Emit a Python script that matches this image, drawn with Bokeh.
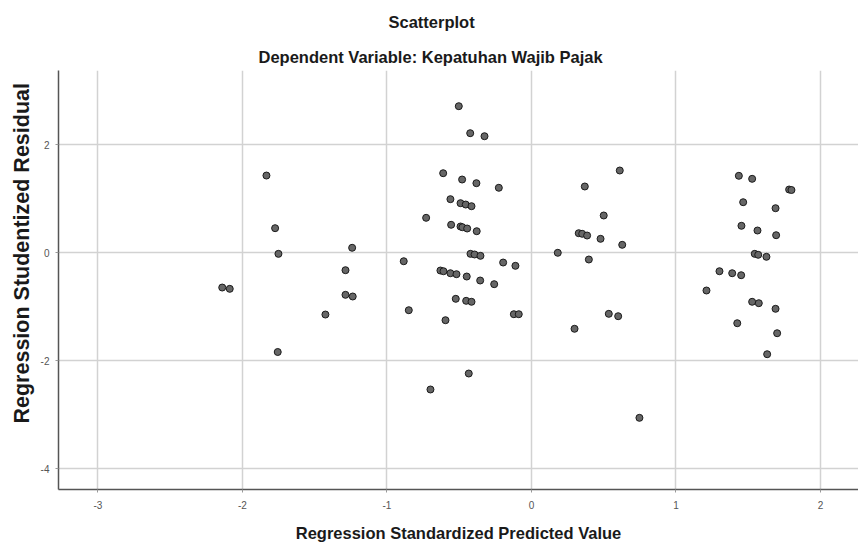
from bokeh.plotting import figure
from bokeh.models import Range1d, FixedTicker, Title
from bokeh.embed import file_html
from bokeh.resources import INLINE

# Regression Standardized Predicted Value
pred = [-2.140, -2.088, -1.834, -1.774, -1.751, -1.756, -1.241, -1.287, -1.287, -1.237,
        -1.426, -0.884, -0.849, -0.729, -0.699,
        -0.503, -0.424, -0.325, -0.611, -0.480, -0.381, -0.226, -0.561, -0.491, -0.455,
        -0.415, -0.556, -0.491, -0.478, -0.445, -0.379, -0.422, -0.394, -0.353, -0.196,
        -0.111, -0.630, -0.609, -0.561, -0.519, -0.448, -0.355, -0.258, -0.524, -0.452,
        -0.415, -0.122, -0.088, -0.595, -0.434,
        0.182, 0.611, 0.369, 0.500, 0.327, 0.351, 0.385, 0.478, 0.628, 0.397,
        0.535, 0.600, 0.298, 0.747,
        1.435, 1.527, 1.783, 1.799, 1.465, 1.689, 1.453, 1.564, 1.693, 1.545,
        1.569, 1.626, 1.301, 1.389, 1.451, 1.211, 1.527, 1.573, 1.689, 1.424,
        1.700, 1.631]

# Regression Studentized Residual
resid = [-0.643, -0.667, 1.431, 0.456, -0.019, -1.837, 0.093, -0.322, -0.778, -0.809,
         -1.143, -0.156, -1.063, 0.648, -2.531,
         2.715, 2.215, 2.159, 1.474, 1.357, 1.289, 1.204, 0.993, 0.919, 0.894,
         0.863, 0.519, 0.487, 0.474, 0.450, 0.400, -0.019, -0.031, -0.056, -0.180,
         -0.241, -0.328, -0.341, -0.378, -0.396, -0.439, -0.513, -0.581, -0.852, -0.889,
         -0.907, -1.137, -1.137, -1.248, -2.235,
         0.000, 1.524, 1.228, 0.691, 0.363, 0.352, 0.320, 0.259, 0.148, -0.124,
         -1.130, -1.174, -1.407, -3.056,
         1.426, 1.370, 1.172, 1.163, 0.937, 0.826, 0.500, 0.413, 0.326, -0.019,
         -0.037, -0.074, -0.341, -0.378, -0.415, -0.698, -0.907, -0.933, -1.037, -1.304,
         -1.489, -1.878]

x_ticks = [-3, -2, -1, 0, 1, 2]
x_tick_labels = ["-3", "-2", "-1", "0", "1", "2"]
y_ticks = [-4, -2, 0, 2]
y_tick_labels = ["-4", "-2", "0", "2"]

title_text = "Scatterplot"
subtitle_text = "Dependent Variable: Kepatuhan Wajib Pajak"
x_label = "Regression Standardized Predicted Value"
y_label = "Regression Studentized Residual"

FONT = "Liberation Sans"

p = figure(width=858, height=544, output_backend="svg", toolbar_location=None,
           x_range=Range1d(-3.273, 2.263), y_range=Range1d(-4.383, 3.376),
           min_border_left=58, min_border_right=0, min_border_top=70, min_border_bottom=55,
           title=None)
p.outline_line_color = None
p.background_fill_color = "white"
p.border_fill_color = "white"

p.scatter(pred, resid, size=7, fill_color="#666666", line_color="#1a1a1a", line_width=1)

p.xaxis.ticker = FixedTicker(ticks=x_ticks)
p.yaxis.ticker = FixedTicker(ticks=y_ticks)
p.xaxis.major_label_overrides = dict(zip(x_ticks, x_tick_labels))
p.yaxis.major_label_overrides = dict(zip(y_ticks, y_tick_labels))
p.xaxis.axis_label = x_label

for ax in (p.xaxis, p.yaxis):
    ax.axis_label_text_font = FONT
    ax.axis_label_text_font_size = "16.5px"
    ax.axis_label_text_font_style = "bold"
    ax.axis_label_text_color = "#1a1a1a"
    ax.major_label_text_font = FONT
    ax.major_label_text_font_size = "10px"
    ax.major_label_text_color = "#555555"
    ax.axis_line_color = "#555555"
    ax.axis_line_width = 1.5
    ax.major_tick_in = 0
    ax.major_tick_out = 3
    ax.major_tick_line_color = "#999999"
    ax.minor_tick_line_color = None

p.xaxis.major_label_standoff = 8
p.xaxis.axis_label_standoff = 12
p.yaxis.major_label_standoff = 6

p.xgrid.ticker = FixedTicker(ticks=x_ticks)
p.ygrid.ticker = FixedTicker(ticks=y_ticks)
for g in (p.xgrid, p.ygrid):
    g.grid_line_color = "#d2d2d2"
    g.grid_line_width = 1.5

common = dict(text_font=FONT, text_font_style="bold", text_color="#1a1a1a")
p.add_layout(Title(text=subtitle_text, align="left", offset=200, standoff=9,
                   text_font_size="16.5px", **common), "above")
p.add_layout(Title(text=title_text, align="left", offset=330, standoff=21,
                   text_font_size="16.5px", **common), "above")
p.add_layout(Title(text=y_label, align="left", offset=66, standoff=8,
                   text_font_size="21.5px", **common), "left")

open("out.html", "w").write(file_html(p, INLINE))
